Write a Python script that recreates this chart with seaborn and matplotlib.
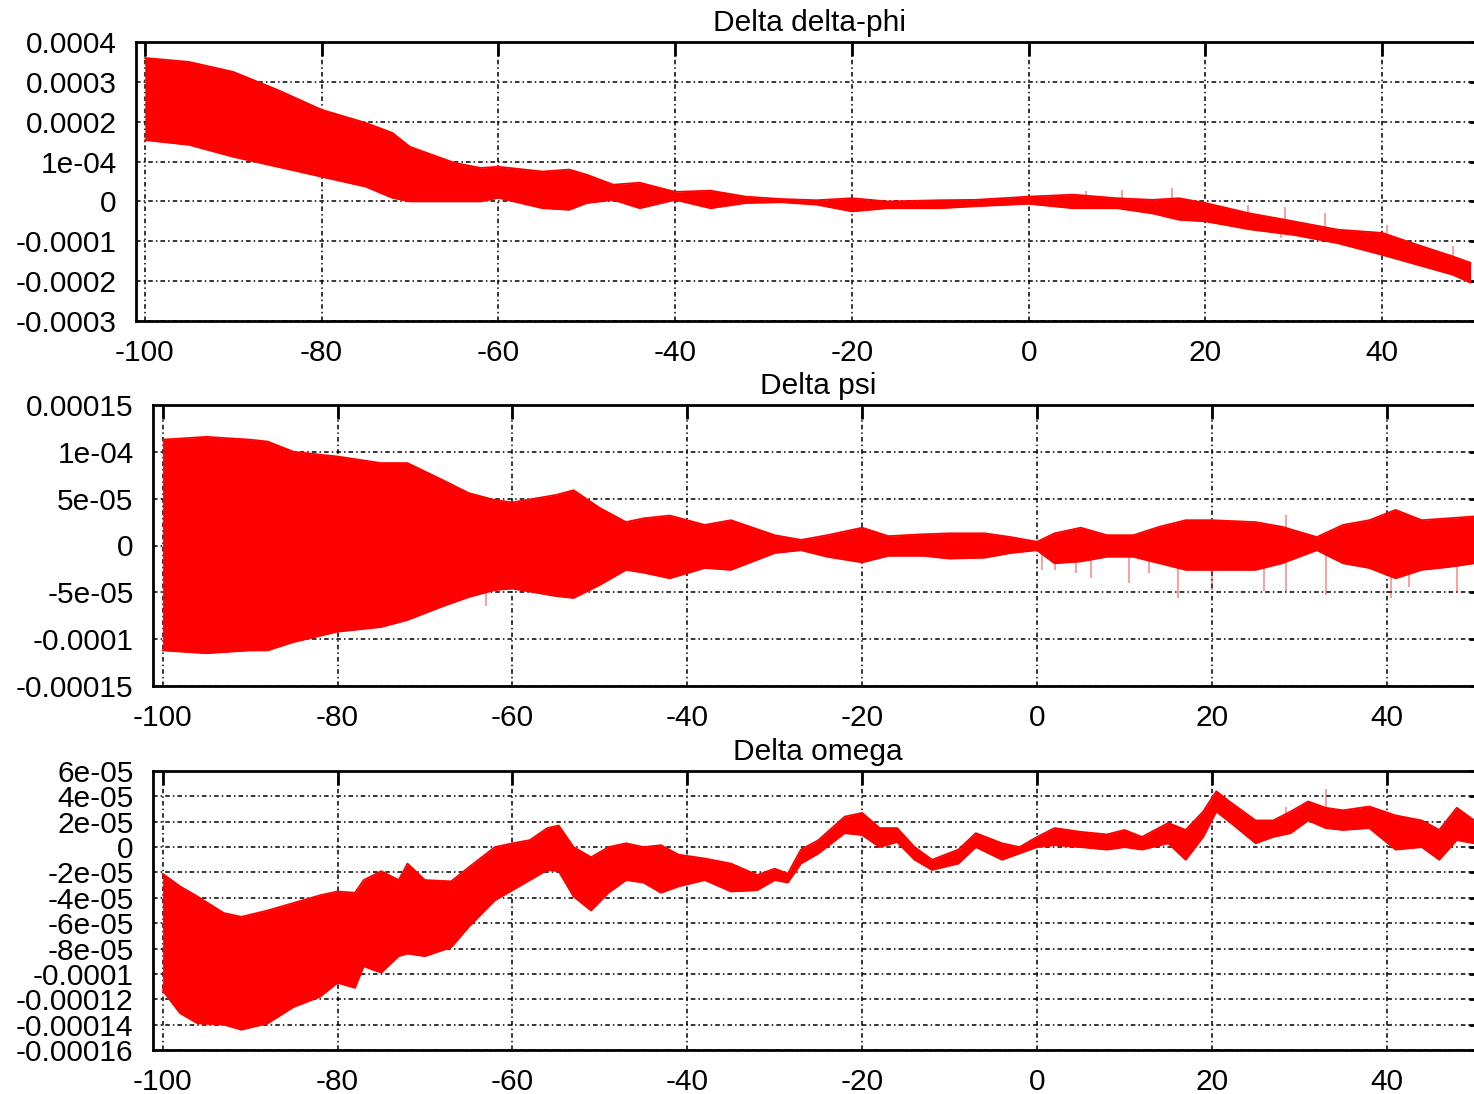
import numpy as np
import pandas as pd
import matplotlib
matplotlib.use("Agg")
import matplotlib.pyplot as plt
import seaborn as sns

# ---------------- data (envelopes) ----------------
titles = ["Delta delta-phi", "Delta psi", "Delta omega"]

# Panel 1: Delta delta-phi, values in units of 1e-4
phi_scale = 1e-4
phi_x = [-100, -95, -90, -85, -80, -75, -72, -70, -65, -62, -60, -55, -52, -50, -47, -44,
         -40, -36, -32, -28, -24, -20, -16, -10, -6, 0, 5, 10, 14, 17, 20, 25, 30, 35, 40,
         44, 48, 50]
phi_hi = [3.6, 3.5, 3.25, 2.8, 2.3, 1.97, 1.72, 1.37, 0.97, 0.84, 0.87, 0.75, 0.8, 0.67,
          0.42, 0.47, 0.24, 0.27, 0.12, 0.06, 0.03, 0.08, 0.0, 0.03, 0.04, 0.12, 0.17, 0.08,
          0.04, 0.08, -0.04, -0.3, -0.5, -0.71, -0.79, -1.09, -1.38, -1.54]
phi_lo = [1.54, 1.42, 1.12, 0.87, 0.62, 0.37, 0.09, 0.0, 0.0, 0.0, 0.09, -0.17, -0.21, -0.04,
          0.04, -0.17, 0.04, -0.17, -0.04, -0.02, -0.08, -0.25, -0.17, -0.17, -0.12, -0.06,
          -0.17, -0.17, -0.3, -0.46, -0.5, -0.7, -0.84, -1.05, -1.34, -1.59, -1.84, -2.04]
# isolated thin spikes (x, base, tip), units of 1e-4
phi_spk_x = [6.5, 10.6, 16.2, 24.8, 29.0, 28.6, 33.5, 40.5, 48.0]
phi_spk_base = [0.0, 0.0, 0.0, -0.4, -0.6, -0.6, -0.8, -1.0, -1.6]
phi_spk_tip = [0.25, 0.29, 0.34, -0.09, -0.13, -0.92, -0.29, -0.59, -1.13]

# Panel 2: Delta psi, values in units of 1e-5
psi_scale = 1e-5
psi_x = [-100, -95, -90, -88, -85, -80, -75, -72, -68, -65, -62, -60, -55, -53, -50, -47,
         -45, -42, -38, -35, -30, -27, -24, -20, -17, -13, -10, -6, -3, 0, 2, 5, 8, 11, 14,
         17, 20, 25, 28, 32, 35, 38, 41, 44, 47, 50]
psi_hi = [11.3, 11.6, 11.3, 11.1, 10.0, 9.5, 8.8, 8.8, 7.0, 5.6, 4.85, 4.6, 5.4, 5.9, 4.0,
          2.5, 2.9, 3.2, 2.2, 2.7, 1.1, 0.6, 1.1, 1.9, 1.0, 1.2, 1.3, 1.3, 0.9, 0.4, 1.3,
          1.9, 1.1, 1.1, 2.0, 2.7, 2.7, 2.5, 2.0, 0.9, 2.2, 2.7, 3.8, 2.7, 2.9, 3.1]
psi_lo = [-11.2, -11.5, -11.2, -11.2, -10.3, -9.2, -8.7, -7.95, -6.5, -5.5, -4.75, -4.6,
          -5.4, -5.6, -4.2, -2.6, -2.9, -3.5, -2.4, -2.6, -0.8, -0.5, -1.2, -1.8, -1.1, -1.1,
          -1.4, -1.3, -0.8, -0.5, -1.9, -1.7, -1.2, -1.2, -1.9, -2.6, -2.6, -2.6, -1.9, -0.5,
          -1.9, -2.4, -3.5, -2.6, -2.3, -1.9]
psi_spk_x = [-63, 0.6, 2.0, 4.5, 6.2, 10.5, 12.8, 16.1, 20.0, 26.0, 28.5, 28.5, 33.1, 40.5,
             42.5, 48.0]
psi_spk_base = [0.0] * 16
psi_spk_tip = [-6.5, -2.6, -2.6, -2.9, -3.5, -4.0, -2.9, -5.6, -4.8, -4.9, -4.9, 3.3, -5.3,
               -5.6, -4.4, -5.1]

# Panel 3: Delta omega, values in units of 1e-5
om_scale = 1e-5
om_x = [-100, -98, -96, -93, -91, -88, -85, -82, -80, -78, -77, -75, -73, -72, -70, -67, -65,
        -62, -60, -58, -56, -54.7, -53, -51, -49, -47, -45, -43, -41, -38, -35, -32, -30,
        -28.5, -27, -25, -22, -20, -18, -16, -14, -12, -9, -7, -4, -2, 0, 2, 5, 8, 10, 12,
        15, 17, 19, 20.5, 22, 25, 27, 29, 31, 33, 35, 38, 41, 44, 46, 48, 50]
om_hi = [-2.1, -3.1, -3.9, -5.2, -5.5, -5.0, -4.4, -3.8, -3.5, -3.6, -2.6, -1.9, -2.6, -1.3,
         -2.6, -2.7, -1.6, 0.0, 0.3, 0.55, 1.5, 1.7, 0.0, -0.8, 0.0, 0.3, 0.0, 0.15, -0.6,
         -0.9, -1.3, -2.2, -1.7, -2.1, -0.2, 0.55, 2.4, 2.7, 1.5, 1.5, 0.0, -1.0, -0.2, 1.1,
         0.3, 0.0, 0.8, 1.5, 1.2, 1.0, 1.35, 0.8, 1.9, 1.35, 2.8, 4.4, 3.6, 2.1, 2.1, 2.8,
         3.6, 3.1, 2.9, 3.2, 2.5, 2.1, 1.35, 3.1, 2.1]
om_lo = [-11.3, -13.1, -13.9, -14.0, -14.4, -13.9, -12.6, -11.8, -10.7, -11.1, -9.4, -9.9,
         -8.6, -8.4, -8.6, -7.9, -6.3, -4.2, -3.4, -2.6, -1.8, -1.9, -3.9, -5.0, -3.6, -2.6,
         -2.8, -3.6, -3.1, -2.6, -3.5, -3.4, -2.6, -2.8, -1.3, -0.5, 1.1, 0.95, 0.0, 0.4,
         -1.0, -1.8, -1.3, 0.0, -1.0, -0.5, 0.0, 0.15, 0.0, -0.2, 0.0, -0.2, 0.3, -1.0, 0.8,
         2.8, 2.0, 0.3, 0.8, 1.1, 2.1, 1.5, 1.35, 1.5, -0.2, 0.0, -1.0, 0.55, 0.3]
om_spk_x = [28.5, 33.0]
om_spk_base = [2.0, 2.5]
om_spk_tip = [3.2, 4.6]

x_ticks = [-100, -80, -60, -40, -20, 0, 20, 40]
x_tick_labels = ["-100", "-80", "-60", "-40", "-20", "0", "20", "40"]

phi_yticks = [-0.0003, -0.0002, -0.0001, 0, 0.0001, 0.0002, 0.0003, 0.0004]
phi_ylabels = ["-0.0003", "-0.0002", "-0.0001", "0", "1e-04", "0.0002", "0.0003", "0.0004"]
psi_yticks = [-0.00015, -0.0001, -5e-05, 0, 5e-05, 0.0001, 0.00015]
psi_ylabels = ["-0.00015", "-0.0001", "-5e-05", "0", "5e-05", "1e-04", "0.00015"]
om_yticks = [-0.00016, -0.00014, -0.00012, -0.0001, -8e-05, -6e-05, -4e-05, -2e-05, 0,
             2e-05, 4e-05, 6e-05]
om_ylabels = ["-0.00016", "-0.00014", "-0.00012", "-0.0001", "-8e-05", "-6e-05", "-4e-05",
              "-2e-05", "0", "2e-05", "4e-05", "6e-05"]

# ---------------- style ----------------
sns.set_style("white")
plt.rcParams["font.family"] = ["Liberation Sans", "DejaVu Sans"]
plt.rcParams["text.color"] = "black"
plt.rcParams["axes.titlecolor"] = "black"
FS = 21.5

W, H = 1474, 1094
fig = plt.figure(figsize=(W / 100, H / 100), dpi=100)

def px_axes(left, top, right, bottom):
    return fig.add_axes([left / W, 1 - bottom / H, (right - left) / W, (bottom - top) / H])

panels = [
    dict(rect=(136, 42, 1483, 321), x=phi_x, hi=phi_hi, lo=phi_lo, s=phi_scale,
         sx=phi_spk_x, sb=phi_spk_base, st=phi_spk_tip,
         ylim=(-0.0003, 0.0004), yt=phi_yticks, yl=phi_ylabels, xlim=(-101.0, 51.4)),
    dict(rect=(153, 405, 1483, 686), x=psi_x, hi=psi_hi, lo=psi_lo, s=psi_scale,
         sx=psi_spk_x, sb=psi_spk_base, st=psi_spk_tip,
         ylim=(-0.00015, 0.00015), yt=psi_yticks, yl=psi_ylabels, xlim=(-101.1, 51.0)),
    dict(rect=(153, 771, 1483, 1050), x=om_x, hi=om_hi, lo=om_lo, s=om_scale,
         sx=om_spk_x, sb=om_spk_base, st=om_spk_tip,
         ylim=(-0.00016, 6e-05), yt=om_yticks, yl=om_ylabels, xlim=(-101.1, 51.0)),
]

RED = "#ff0000"
for title, p in zip(titles, panels):
    ax = px_axes(*p["rect"])
    df = pd.DataFrame({
        "t": p["x"],
        "hi": np.asarray(p["hi"]) * p["s"],
        "lo": np.asarray(p["lo"]) * p["s"],
    })
    ax.fill_between(df["t"], df["lo"], df["hi"], color=RED, linewidth=0, zorder=3)
    sns.lineplot(data=df, x="t", y="hi", ax=ax, color=RED, linewidth=1.3, zorder=3)
    sns.lineplot(data=df, x="t", y="lo", ax=ax, color=RED, linewidth=1.3, zorder=3)
    ax.vlines(p["sx"], np.asarray(p["sb"]) * p["s"], np.asarray(p["st"]) * p["s"],
              color=RED, alpha=0.45, linewidth=1.2, zorder=2.5)

    ax.set_xlim(*p["xlim"])
    ax.set_ylim(*p["ylim"])
    ax.set_xticks(x_ticks)
    ax.set_xticklabels(x_tick_labels)
    ax.set_yticks(p["yt"])
    ax.set_yticklabels(p["yl"])
    ax.set_xlabel("")
    ax.set_ylabel("")
    ax.tick_params(axis="both", which="major", direction="in", length=10, width=2,
                   top=True, right=True, labelsize=FS, colors="black")
    ax.tick_params(axis="y", pad=14)
    ax.tick_params(axis="x", pad=13)
    for sp in ax.spines.values():
        sp.set_visible(True)
        sp.set_linewidth(2)
        sp.set_color("black")
    ax.grid(True, color="black", linewidth=1.1, linestyle=(0, (3, 2, 1, 2)), zorder=1)
    ax.set_axisbelow(True)
    ax.set_title(title, fontsize=FS, pad=8, color="black")

fig.savefig("out.png", dpi=100)
